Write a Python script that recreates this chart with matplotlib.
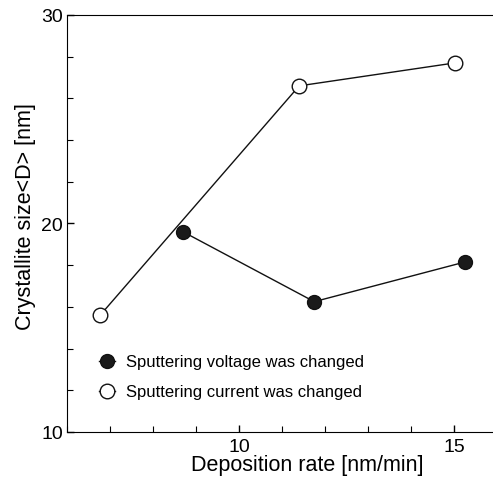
import matplotlib
matplotlib.use('Agg')
import matplotlib.pyplot as plt
from matplotlib.ticker import MultipleLocator

plt.rcParams['font.family'] = ['Liberation Sans', 'DejaVu Sans']

# sputtering voltage was changed (filled)
rate_voltage = [8.7, 11.75, 15.25]
size_voltage = [19.6, 16.25, 18.15]

# sputtering current was changed (open)
rate_current = [6.77, 11.4, 15.02]
size_current = [15.6, 26.6, 27.7]

labels = ['Sputtering voltage was changed', 'Sputtering current was changed']

fig = plt.figure(figsize=(4.93, 4.81), dpi=100)
ax = fig.add_axes([0.136, 0.0998, 0.872, 0.867])

ax.plot(rate_voltage, size_voltage, '-o', color='#111111', lw=1.0,
        markersize=10, markerfacecolor='#1a1a1a', markeredgecolor='#111111',
        label=labels[0])
ax.plot(rate_current, size_current, '-o', color='#111111', lw=1.0,
        markersize=10.5, markerfacecolor='white', markeredgecolor='#111111',
        markeredgewidth=1.0, label=labels[1])

ax.set_xlim(6, 16)
ax.set_ylim(10, 30)
ax.xaxis.set_major_locator(MultipleLocator(5))
ax.xaxis.set_minor_locator(MultipleLocator(1))
ax.yaxis.set_major_locator(MultipleLocator(10))
ax.yaxis.set_minor_locator(MultipleLocator(2))
ax.tick_params(which='both', direction='in', top=False, right=False,
               labelsize=14)
ax.tick_params(axis='x', which='both', pad=4.5)
ax.tick_params(axis='y', which='both', pad=3)
ax.tick_params(which='major', length=5, width=1)
ax.tick_params(which='minor', length=4, width=0.8)
ax.spines['right'].set_visible(False)

ax.set_xlabel('Deposition rate [nm/min]', fontsize=15.5)
ax.set_ylabel('Crystallite size<D> [nm]', fontsize=15.5)
ax.xaxis.set_label_coords(0.558, -0.052)
ax.yaxis.set_label_coords(-0.072, 0.52)

ax.legend(loc='center left', bbox_to_anchor=(0.0735, 0.132), frameon=False,
          fontsize=12, borderpad=0, borderaxespad=0, handlelength=1.0,
          handletextpad=0.63, labelspacing=0.9, numpoints=1)

fig.savefig('out.png', dpi=100)
